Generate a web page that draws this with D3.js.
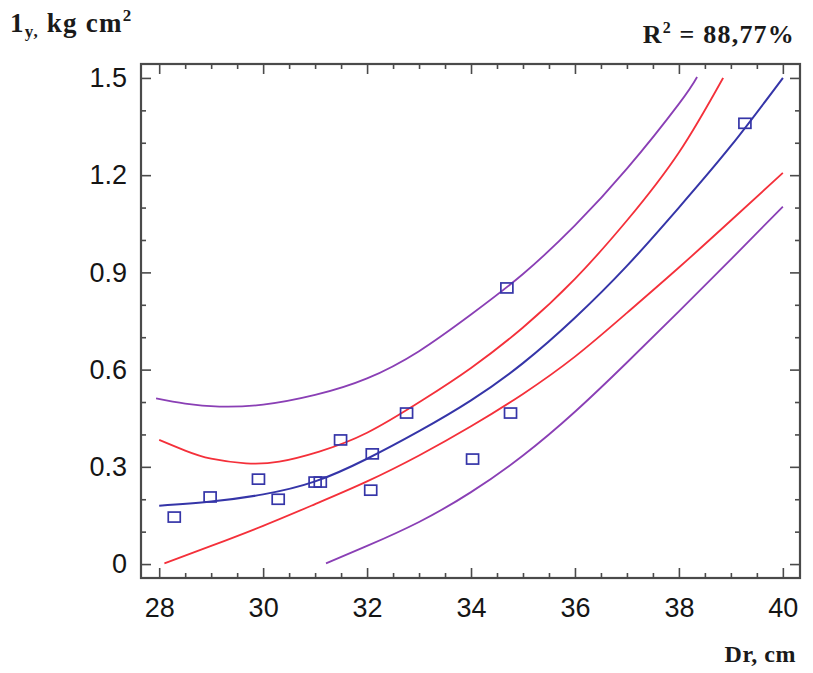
<!DOCTYPE html>
<html>
<head>
<meta charset="utf-8">
<script src="https://cdn.jsdelivr.net/npm/d3@7"></script>
<style>
  body { margin: 0; background: #fff; }
  svg { display: block; }
  .tick text { font-family: "Liberation Sans", Arial, sans-serif; font-size: 27px; fill: #151515; }
  .lbl { font-family: "Liberation Serif", "Times New Roman", serif; font-weight: bold; fill: #1a1a1a; }
</style>
</head>
<body>
<svg width="813" height="673"></svg>
<script>
// observed points (Dr, Iy)
const obsDr = [28.29, 28.98, 29.91, 30.29, 31.0, 31.1, 31.49, 32.1, 32.07, 32.76, 34.03, 34.69, 34.76, 39.27];
const obsIy = [0.145, 0.207, 0.262, 0.2, 0.253, 0.253, 0.383, 0.34, 0.228, 0.466, 0.324, 0.852, 0.466, 1.36];

// fitted line
const fitDr = [28.0, 29.0, 30.0, 31.0, 32.0, 33.0, 34.0, 35.0, 36.0, 37.0, 38.0, 39.0, 40.0];
const fitIy = [0.18, 0.193, 0.215, 0.255, 0.325, 0.41, 0.505, 0.62, 0.76, 0.92, 1.1, 1.29, 1.5];

// confidence limits (red)
const confUpDr = [28.0, 28.5, 29.0, 29.67, 30.31, 31.08, 32.0, 33.07, 34.0, 35.0, 36.0, 37.0, 38.0, 38.85];
const confUpIy = [0.383, 0.35, 0.325, 0.311, 0.316, 0.347, 0.405, 0.506, 0.605, 0.73, 0.88, 1.06, 1.27, 1.5];
const confLoDr = [28.1, 29.0, 30.0, 31.0, 32.0, 33.0, 34.0, 35.0, 36.0, 37.0, 38.0, 39.0, 40.0];
const confLoIy = [0.002, 0.056, 0.118, 0.185, 0.255, 0.335, 0.425, 0.525, 0.64, 0.775, 0.915, 1.06, 1.207];

// prediction limits (purple)
const predUpDr = [27.94, 28.5, 29.16, 30.0, 31.0, 32.0, 33.0, 34.0, 35.0, 36.0, 37.0, 38.0, 38.35];
const predUpIy = [0.511, 0.495, 0.486, 0.492, 0.522, 0.573, 0.657, 0.77, 0.895, 1.045, 1.22, 1.42, 1.503];
const predLoDr = [31.21, 32.0, 33.0, 34.0, 35.0, 36.0, 37.0, 38.0, 39.0, 40.0];
const predLoIy = [0.002, 0.056, 0.13, 0.222, 0.335, 0.47, 0.622, 0.78, 0.94, 1.103];

const xTicks = [28, 30, 32, 34, 36, 38, 40];
const yTicks = [0, 0.3, 0.6, 0.9, 1.2, 1.5];

const svg = d3.select("svg");
const pLeft = 141, pRight = 800, pTop = 64, pBottom = 578;

const x = d3.scaleLinear().domain([27.65, 40.33]).range([pLeft, pRight]);
const y = d3.scaleLinear().domain([-0.043, 1.543]).range([pBottom, pTop]);

svg.append("clipPath").attr("id", "plotClip")
  .append("rect").attr("x", pLeft).attr("y", pTop).attr("width", pRight - pLeft).attr("height", pBottom - pTop);

const plot = svg.append("g").attr("clip-path", "url(#plotClip)");

const line = d3.line().x(d => x(d[0])).y(d => y(d[1])).curve(d3.curveNatural);

function drawCurve(xs, ys, color, w) {
  plot.append("path")
    .datum(xs.map((v, i) => [v, ys[i]]))
    .attr("d", line)
    .attr("fill", "none")
    .attr("stroke", color)
    .attr("stroke-width", w);
}

drawCurve(predUpDr, predUpIy, "#8a3fb5", 1.8);
drawCurve(predLoDr, predLoIy, "#8a3fb5", 1.8);
drawCurve(confUpDr, confUpIy, "#f4303a", 1.8);
drawCurve(confLoDr, confLoIy, "#f4303a", 1.8);
drawCurve(fitDr, fitIy, "#3535a8", 2);

// squares
svg.append("g").selectAll("rect")
  .data(obsDr.map((v, i) => [v, obsIy[i]]))
  .join("rect")
  .attr("x", d => x(d[0]) - 6)
  .attr("y", d => y(d[1]) - 5)
  .attr("width", 12)
  .attr("height", 10)
  .attr("fill", "none")
  .attr("stroke", "#3535a8")
  .attr("stroke-width", 1.7);

// axes with inward ticks
const minorX = d3.range(28, 40.01, 0.5).filter(v => v % 2 !== 0);
const minorY = d3.range(0, 1.501, 0.1).filter(v => Math.abs(v / 0.3 - Math.round(v / 0.3)) > 0.01);

function styleAxis(g) {
  g.select(".domain").remove();
  g.selectAll(".tick line").attr("stroke", "#4a4a4a").attr("stroke-width", 1.6);
}

svg.append("g").attr("transform", `translate(0,${pBottom})`)
  .call(d3.axisBottom(x).tickValues(xTicks).tickSizeInner(-10).tickSizeOuter(0).tickPadding(20).tickFormat(d3.format("d")))
  .call(styleAxis);
svg.append("g").attr("transform", `translate(0,${pBottom})`)
  .call(d3.axisBottom(x).tickValues(minorX).tickSizeInner(-5).tickSizeOuter(0).tickFormat(""))
  .call(styleAxis);
svg.append("g").attr("transform", `translate(0,${pTop})`)
  .call(d3.axisTop(x).tickValues(xTicks).tickSizeInner(-10).tickSizeOuter(0).tickFormat(""))
  .call(styleAxis);
svg.append("g").attr("transform", `translate(0,${pTop})`)
  .call(d3.axisTop(x).tickValues(minorX).tickSizeInner(-5).tickSizeOuter(0).tickFormat(""))
  .call(styleAxis);

svg.append("g").attr("transform", `translate(${pLeft},0)`)
  .call(d3.axisLeft(y).tickValues(yTicks).tickSizeInner(-10).tickSizeOuter(0).tickPadding(14)
    .tickFormat(d => d === 0 ? "0" : d3.format(".1f")(d)))
  .call(styleAxis);
svg.append("g").attr("transform", `translate(${pLeft},0)`)
  .call(d3.axisLeft(y).tickValues(minorY).tickSizeInner(-5).tickSizeOuter(0).tickFormat(""))
  .call(styleAxis);
svg.append("g").attr("transform", `translate(${pRight},0)`)
  .call(d3.axisRight(y).tickValues(yTicks).tickSizeInner(-10).tickSizeOuter(0).tickFormat(""))
  .call(styleAxis);
svg.append("g").attr("transform", `translate(${pRight},0)`)
  .call(d3.axisRight(y).tickValues(minorY).tickSizeInner(-5).tickSizeOuter(0).tickFormat(""))
  .call(styleAxis);

svg.selectAll(".tick text").attr("fill", "#151515");

// frame
svg.append("rect")
  .attr("x", pLeft).attr("y", pTop)
  .attr("width", pRight - pLeft).attr("height", pBottom - pTop)
  .attr("fill", "none").attr("stroke", "#4a4a4a").attr("stroke-width", 2.2);

// labels
const yl = svg.append("text").attr("class", "lbl").attr("x", 10).attr("y", 32)
  .attr("font-size", 27).attr("letter-spacing", 1.2);
yl.append("tspan").text("1");
yl.append("tspan").attr("font-size", 17).attr("dy", 5).text("y,");
yl.append("tspan").attr("dy", -5).text(" kg cm");
yl.append("tspan").attr("font-size", 17).attr("dy", -11).text("2");

const r2 = svg.append("text").attr("class", "lbl").attr("x", 795).attr("y", 43)
  .attr("font-size", 26).attr("letter-spacing", 1.2).attr("text-anchor", "end");
r2.append("tspan").text("R");
r2.append("tspan").attr("font-size", 16).attr("dy", -10).text("2");
r2.append("tspan").attr("dy", 10).text(" = 88,77%");

svg.append("text").attr("class", "lbl").attr("x", 796).attr("y", 662)
  .attr("font-size", 24).attr("letter-spacing", 0.5).attr("text-anchor", "end").text("Dr, cm");
</script>
</body>
</html>
